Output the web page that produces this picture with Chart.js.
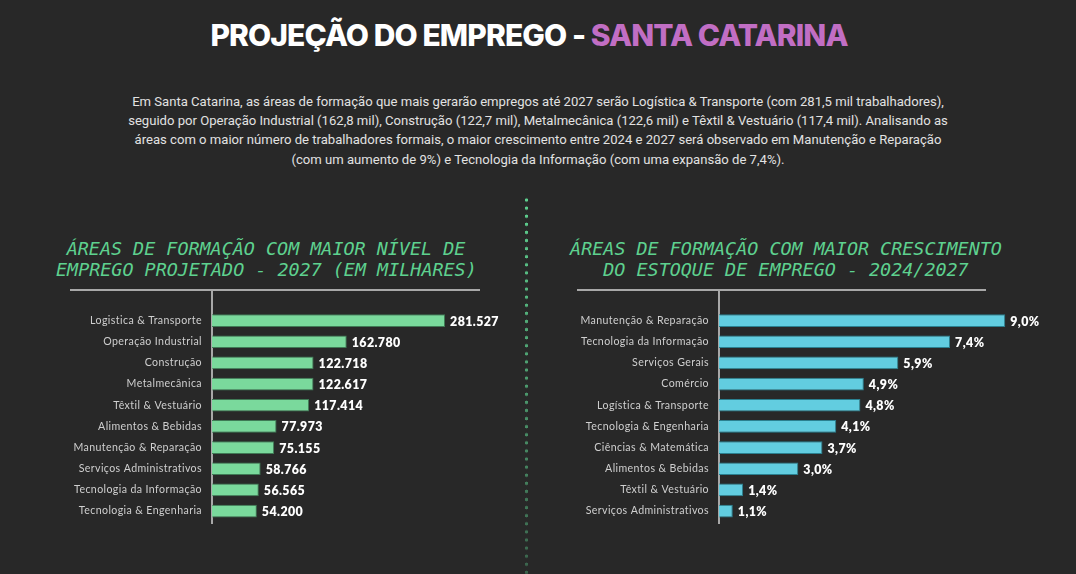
<!DOCTYPE html>
<html lang="pt-BR">
<head>
<meta charset="utf-8">
<script src="https://cdn.jsdelivr.net/npm/chart.js@4"></script>
<style>
    html, body { margin: 0; padding: 0; }
    body {
        width: 1076px; height: 574px; overflow: hidden; position: relative;
        background: #282828; font-family: Roboto, sans-serif;
    }
    .title {
        position: absolute; left: 0; width: 1058px; top: 17px; text-align: center;
        font: 800 30px Inter, sans-serif; letter-spacing: -0.9px; color: #fff;
    }
    .title span { color: #c16ec4; }
    .intro {
        position: absolute; left: 80px; width: 916px; top: 92px; text-align: center;
        font-size: 13.1px; line-height: 19.2px; color: #e2e2e2;
    }
    .divider {
        position: absolute; left: 524px; top: 196px; width: 5px; height: 378px;
        background-image: radial-gradient(circle, #5ed18f 1.6px, transparent 1.9px);
        background-size: 5px 8.1px;
        -webkit-mask-image: linear-gradient(to bottom, #000 0%, rgba(0,0,0,0.35) 100%);
    }
    .chart-title {
        position: absolute; text-align: center; color: #5ed18f;
        font: italic 18.4px "DejaVu Sans Mono", monospace; line-height: 20.5px;
        white-space: nowrap;
    }
    .rule { position: absolute; height: 2px; background: #a8a8a8; }
    .axis { position: absolute; width: 2px; background: #a8a8a8; }
    .box { position: absolute; }
</style>
</head>
<body>
<div class="title">PROJEÇÃO DO EMPREGO - <span>SANTA CATARINA</span></div>
<div class="intro">
    Em Santa Catarina, as áreas de formação que mais gerarão empregos até 2027 serão Logística &amp; Transporte (com 281,5 mil trabalhadores),<br>
    seguido por Operação Industrial (162,8 mil), Construção (122,7 mil), Metalmecânica (122,6 mil) e Têxtil &amp; Vestuário (117,4 mil). Analisando as<br>
    áreas com o maior número de trabalhadores formais, o maior crescimento entre 2024 e 2027 será observado em Manutenção e Reparação<br>
    (com um aumento de 9%) e Tecnologia da Informação (com uma expansão de 7,4%).
</div>
<div class="divider"></div>

<div class="chart-title" style="left:56px; width:420px; top:239px;">ÁREAS DE FORMAÇÃO COM MAIOR NÍVEL DE<br>EMPREGO PROJETADO - 2027 (EM MILHARES)</div>
<div class="chart-title" style="left:566px; width:440px; top:239px;">ÁREAS DE FORMAÇÃO COM MAIOR CRESCIMENTO<br>DO ESTOQUE DE EMPREGO - 2024/2027</div>

<div class="rule" style="left:70px; width:410px; top:289px;"></div>
<div class="axis" style="left:211px; top:290px; height:234px;"></div>
<div class="rule" style="left:577px; width:409px; top:289px;"></div>
<div class="axis" style="left:718px; top:290px; height:234px;"></div>

<div class="box" style="left:50px; top:290px; width:460px; height:248px;"><canvas id="chart-emprego"></canvas></div>
<div class="box" style="left:557px; top:290px; width:500px; height:248px;"><canvas id="chart-crescimento"></canvas></div>

<script>
// Emprego projetado 2027 (valores absolutos)
const empregoLabels = [
    'Logistica & Transporte', 'Operação Industrial', 'Construção', 'Metalmecânica',
    'Têxtil & Vestuário', 'Alimentos & Bebidas', 'Manutenção & Reparação',
    'Serviços Administrativos', 'Tecnologia da Informação', 'Tecnologia & Engenharia'
];
const empregoValues = [281527, 162780, 122718, 122617, 117414, 77973, 75155, 58766, 56565, 54200];

// Crescimento do estoque 2024/2027 (%)
const crescimentoLabels = [
    'Manutenção & Reparação', 'Tecnologia da Informação', 'Serviços Gerais', 'Comércio',
    'Logística & Transporte', 'Tecnologia & Engenharia', 'Ciências & Matemática',
    'Alimentos & Bebidas', 'Têxtil & Vestuário', 'Serviços Administrativos'
];
const crescimentoValues = [9.0, 7.4, 5.9, 4.9, 4.8, 4.1, 3.7, 3.0, 1.4, 1.1];

const valueLabels = {
    id: 'valueLabels',
    beforeDraw(chart) {
        chart.ctx.letterSpacing = '0.4px';
    },
    afterDatasetsDraw(chart, args, opts) {
        const ctx = chart.ctx;
        const meta = chart.getDatasetMeta(0);
        ctx.save();
        ctx.letterSpacing = '0.4px';
        ctx.font = '800 12.4px Lato, sans-serif';
        ctx.fillStyle = '#ffffff';
        ctx.textAlign = 'left';
        ctx.textBaseline = 'middle';
        meta.data.forEach((bar, i) => {
            const v = chart.data.datasets[0].data[i];
            ctx.fillText(opts.format(v), bar.x + 5, bar.y + 1);
        });
        ctx.restore();
    }
};

function makeBarChart(id, labels, values, color, border, xMin, xMax, axisWidth, format) {
    return new Chart(document.getElementById(id), {
        type: 'bar',
        data: {
            labels: labels,
            datasets: [{
                data: values,
                backgroundColor: color,
                borderColor: border,
                borderWidth: 1,
                categoryPercentage: 1,
                barPercentage: 0.6
            }]
        },
        options: {
            indexAxis: 'y',
            responsive: true,
            maintainAspectRatio: false,
            animation: false,
            layout: { padding: { top: 20, bottom: 4, left: 0, right: 0 } },
            plugins: {
                legend: { display: false },
                tooltip: { enabled: false },
                valueLabels: { format: format }
            },
            scales: {
                x: {
                    display: false,
                    min: xMin,
                    max: xMax
                },
                y: {
                    grid: { display: false, drawTicks: false },
                    border: { display: false },
                    ticks: {
                        color: '#cfcfcf',
                        font: { family: 'Lato, sans-serif', size: 10.6 },
                        padding: 10
                    },
                    afterFit(scale) { scale.width = axisWidth; }
                }
            }
        },
        plugins: [valueLabels]
    });
}

makeBarChart('chart-emprego', empregoLabels, empregoValues, '#7ad99c', '#3f7a55',
    0, 360000, 162, v => v.toLocaleString('pt-BR'));

makeBarChart('chart-crescimento', crescimentoLabels, crescimentoValues, '#62cde0', '#2a8090',
    0.7, 10.5, 162, v => v.toFixed(1).replace('.', ',') + '%');
</script>
</body>
</html>
